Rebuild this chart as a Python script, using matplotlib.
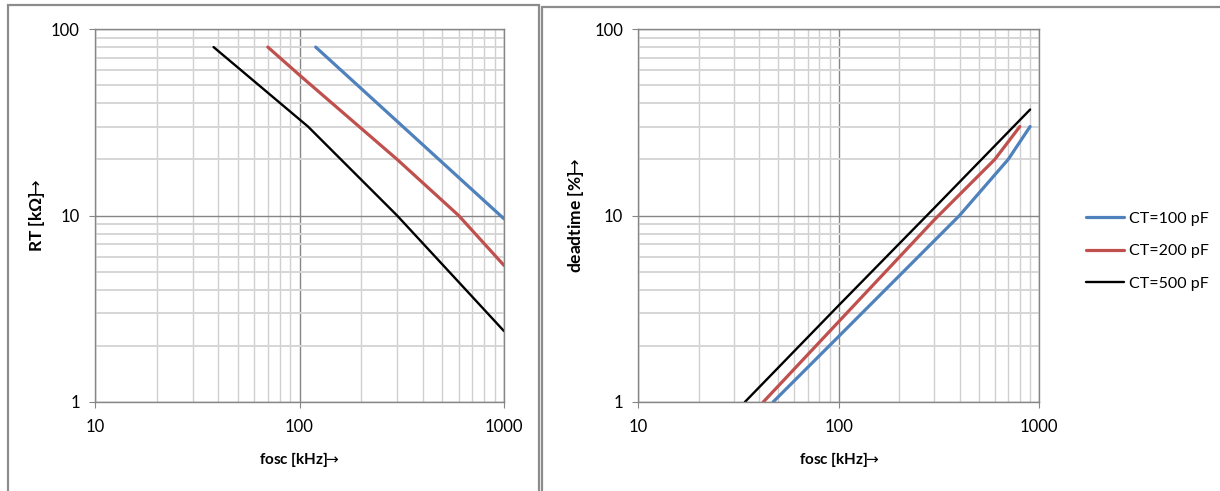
import matplotlib.pyplot as plt
from matplotlib.patches import Rectangle
from matplotlib.ticker import FuncFormatter, LogLocator, NullFormatter

# data
# left chart: RT vs fosc
f_rt_100 = [120, 300, 1000]
rt_100 = [80, 32, 9.6]
f_rt_200 = [70, 100, 300, 600, 1000]
rt_200 = [80, 56.6, 20, 10, 5.4]
f_rt_500 = [38, 110, 300, 600, 1000]
rt_500 = [80, 30, 10, 4.4, 2.4]

# right chart: deadtime vs fosc
f_dt_100 = [47, 100, 400, 700, 900]
dt_100 = [1, 2.25, 10, 20, 30]
f_dt_200 = [42, 100, 300, 600, 800]
dt_200 = [1, 2.7, 9.5, 20, 30]
f_dt_500 = [34, 100, 300, 900]
dt_500 = [1, 3.3, 11, 37]

labels = ["CT=100 pF", "CT=200 pF", "CT=500 pF"]
colors = ["#4F81BD", "#C0504D", "#000000"]
widths = [2.3, 2.3, 1.7]

plt.rcParams['font.family'] = ['Lato', 'DejaVu Sans']
plt.rcParams['mathtext.fontset'] = 'dejavusans'

fig = plt.figure(figsize=(12.2, 4.91), dpi=100)

# panel frames (pixel coords -> figure fraction)
W, H = 1220.0, 491.0
fig.add_artist(Rectangle((8 / W, -0.05), (538.5 - 8) / W, 1.05 - 5 / H,
                         transform=fig.transFigure, fill=False,
                         edgecolor="#8c8c8c", lw=1.6))
fig.add_artist(Rectangle((541.7 / W, -0.05), 0.6, 1.05 - 7 / H,
                         transform=fig.transFigure, fill=False,
                         edgecolor="#8c8c8c", lw=1.6))

ax1 = fig.add_axes([95 / W, 1 - 402 / H, 409 / W, 373 / H])
ax2 = fig.add_axes([638.3 / W, 1 - 402 / H, 401 / W, 373 / H])

# thin arrow, pulled close to the text
arrow = r"$\!\!\rightarrow$"


def style_axes(ax, ylabel, ylab_x):
    ax.set_xscale('log')
    ax.set_yscale('log')
    ax.set_xlim(10, 1000)
    ax.set_ylim(1, 100)
    ax.xaxis.set_minor_locator(LogLocator(base=10, subs=range(2, 10)))
    ax.yaxis.set_minor_locator(LogLocator(base=10, subs=range(2, 10)))
    fmt = FuncFormatter(lambda v, p: "%d" % round(v))
    ax.xaxis.set_major_formatter(fmt)
    ax.yaxis.set_major_formatter(fmt)
    ax.xaxis.set_minor_formatter(NullFormatter())
    ax.yaxis.set_minor_formatter(NullFormatter())
    ax.grid(True, which='major', color="#868686", lw=1.0)
    ax.grid(True, which='minor', axis='x', color="#d0d0d0", lw=1.0)
    ax.grid(True, which='minor', axis='y', color="#d6d6d6", lw=1.4)
    ax.set_axisbelow(True)
    for s in ax.spines.values():
        s.set_color("#868686")
        s.set_linewidth(1.0)
    ax.tick_params(which='major', length=4, color="#868686", labelsize=12,
                   labelcolor="#000000")
    ax.tick_params(axis='x', which='major', pad=8)
    ax.tick_params(axis='y', which='major', pad=7)
    ax.tick_params(which='minor', length=0)
    ax.set_xlabel("fosc [kHz]" + arrow, fontsize=11, fontweight='bold')
    ax.set_ylabel(ylabel + arrow, fontsize=12.5, fontweight='bold')
    ax.xaxis.set_label_coords(0.5, -0.13)
    ax.yaxis.set_label_coords(ylab_x, 0.5)


style_axes(ax1, "RT [kΩ]", -0.117)
style_axes(ax2, "deadtime [%]", -0.13)

rt_f = [f_rt_100, f_rt_200, f_rt_500]
rt_v = [rt_100, rt_200, rt_500]
dt_f = [f_dt_100, f_dt_200, f_dt_500]
dt_v = [dt_100, dt_200, dt_500]

for i in range(3):
    ax1.plot(rt_f[i], rt_v[i], color=colors[i], lw=widths[i],
             solid_capstyle='round', solid_joinstyle='round')
    ax2.plot(dt_f[i], dt_v[i], color=colors[i], lw=widths[i],
             solid_capstyle='round', solid_joinstyle='round', label=labels[i])

fig.legend(*ax2.get_legend_handles_labels(), loc='center left',
           bbox_to_anchor=(1086 / W, 1 - 251 / H), frameon=False,
           fontsize=11.5, handlelength=2.4, handletextpad=0.3,
           labelspacing=1.15, borderpad=0, borderaxespad=0)

fig.savefig("out.png", dpi=100)
